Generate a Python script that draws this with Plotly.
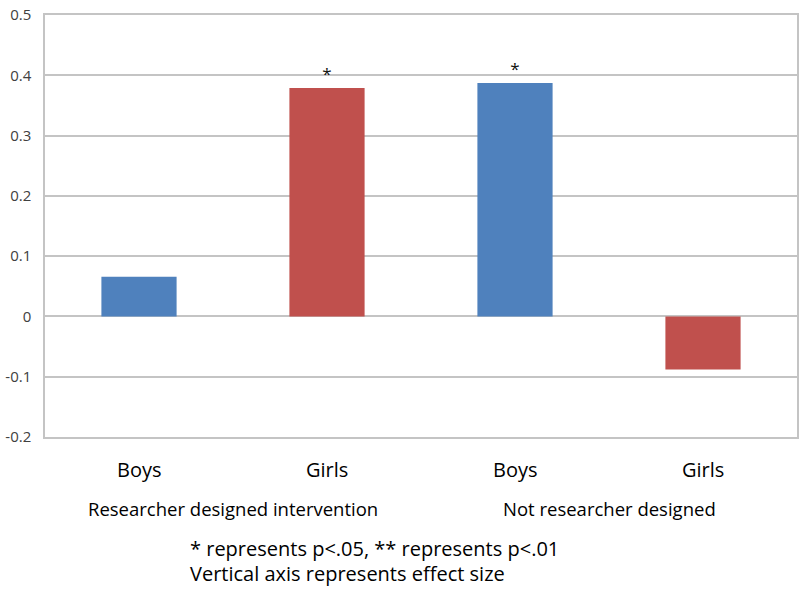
import plotly.graph_objects as go

categories = ["Boys", "Girls", "Boys ", "Girls "]
category_text = ["Boys", "Girls", "Boys", "Girls"]
values = [0.066, 0.379, 0.387, -0.088]
bar_colors = ["#4F81BD", "#C0504D", "#4F81BD", "#C0504D"]
significance = ["", "*", "*", ""]
group_labels = ["Researcher designed intervention", "Not researcher designed"]
tick_vals = [-0.2, -0.1, 0, 0.1, 0.2, 0.3, 0.4, 0.5]
tick_text = ["-0.2", "-0.1", "0", "0.1", "0.2", "0.3", "0.4", "0.5"]
footnotes = ["* represents p<.05, ** represents p<.01", "Vertical axis represents effect size"]

FONT = "Open Sans"
L, R, T, B = 45, 3, 15, 156
W, H = 800, 593
plot_w = W - L - R

fig = go.Figure()
fig.add_trace(go.Bar(
    x=categories, y=values, marker=dict(color=bar_colors, line=dict(width=0)),
    width=0.4, text=significance, textposition="outside",
    textfont=dict(size=17, color="#111", family=FONT), cliponaxis=False,
))

fig.update_layout(
    width=W, height=H,
    margin=dict(l=L, r=R, t=T, b=B),
    paper_bgcolor="white", plot_bgcolor="white",
    showlegend=False,
    font=dict(family=FONT, color="black"),
    xaxis=dict(
        showline=True, linecolor="#C4C4C4", linewidth=1.5, mirror=True,
        showgrid=False, ticks="", showticklabels=False,
        automargin=False,
    ),
    yaxis=dict(
        range=[-0.2, 0.5], tickvals=tick_vals, ticktext=tick_text,
        showgrid=True, gridcolor="#C4C4C4", gridwidth=1.5,
        showline=True, linecolor="#C4C4C4", linewidth=1.5, mirror=True,
        zeroline=False, ticks="", tickfont=dict(size=15, color="#404040"),
        ticklabelstandoff=9, automargin=False,
    ),
)

# category labels
for c, t in zip(categories, category_text):
    fig.add_annotation(
        x=c, y=0, xref="x", yref="paper", yshift=-32,
        text=t, showarrow=False, font=dict(size=20, color="black", family=FONT),
        xanchor="center", yanchor="middle",
    )

# group labels
for i, g in enumerate(group_labels):
    fig.add_annotation(
        x=0.5 + 2 * i, y=0, xref="x", yref="paper", yshift=-71,
        text=g, showarrow=False, font=dict(size=18.5, color="black", family=FONT),
        xanchor="center", yanchor="middle",
    )

# footnotes
for i, f in enumerate(footnotes):
    fig.add_annotation(
        x=(188 - L) / plot_w, y=0, xref="paper", yref="paper", yshift=-111 - 25 * i,
        text=f, showarrow=False, font=dict(size=20, color="black", family=FONT),
        xanchor="left", yanchor="middle",
    )

fig.write_html(
    "out.html",
    config={"displayModeBar": False},
    post_script="document.body.style.margin='0';",
)
